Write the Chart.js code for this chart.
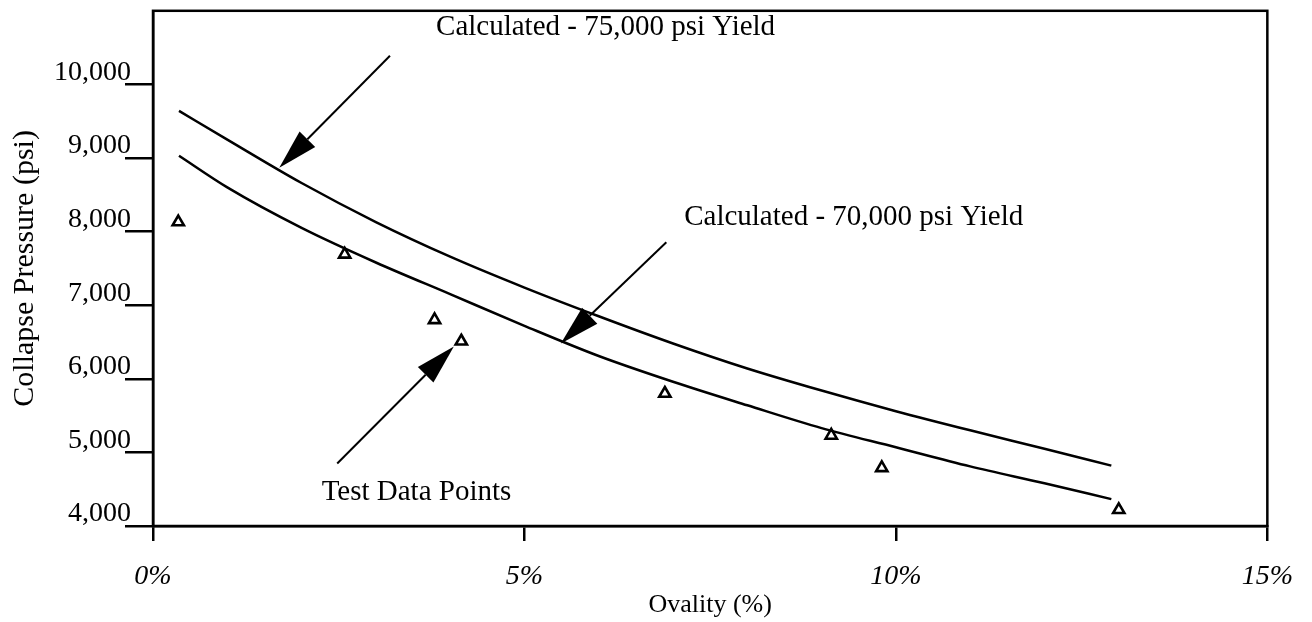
<!DOCTYPE html>
<html><head><meta charset="utf-8">
<script src="https://cdn.jsdelivr.net/npm/chart.js@4.4.1/dist/chart.umd.min.js"></script>
<style>html,body{margin:0;padding:0;background:#fff}#wrap{width:1312px;height:622px}</style>
</head><body><div id="wrap"><canvas id="c" width="1312" height="622"></canvas></div>
<script>
// ---- data ----
const xTickValues = [0, 5, 10, 15];
const xTickLabels = ['0%', '5%', '10%', '15%'];
const yTickValues = [4000, 5000, 6000, 7000, 8000, 9000, 10000];
const yTickLabels = ['4,000', '5,000', '6,000', '7,000', '8,000', '9,000', '10,000'];

const curveOvality = [0.35, 1, 2, 3, 4, 5, 6, 7, 8, 9, 10, 11, 12, 12.9];
const yield75 = [9640, 9250, 8660, 8130, 7660, 7240, 6850, 6480, 6140, 5840, 5560, 5300, 5050, 4820];
const yield70 = [9030, 8600, 8050, 7580, 7150, 6720, 6310, 5960, 5640, 5330, 5070, 4810, 4580, 4365];

const testOvality = [0.34, 2.58, 3.79, 4.15, 6.89, 9.13, 9.81, 13.0];
const testPressure = [8130, 7690, 6800, 6510, 5800, 5230, 4790, 4220];

const annotationTexts = ['Calculated - 75,000 psi Yield', 'Calculated - 70,000 psi Yield', 'Test Data Points'];
const annotationTextAt = [[3.81, 10780], [7.15, 8193], [2.27, 4458]];
const arrowFrom = [[3.19, 10390], [6.91, 7856], [2.48, 4850]];
const arrowTo = [[1.70, 8867], [5.49, 6481], [4.05, 6440]];

// ---- chart ----
const FONT = '"Liberation Serif", "Times New Roman", serif';
const toXY = (xs, ys) => xs.map((v, i) => ({x: v, y: ys[i]}));

const annotPlugin = {
  id: 'annot',
  afterDatasetsDraw(chart) {
    const {ctx, scales: {x, y}, chartArea: a} = chart;
    ctx.save();
    ctx.strokeStyle = '#000';
    ctx.fillStyle = '#000';
    ctx.lineWidth = 2.5;
    ctx.strokeRect(a.left, a.top, a.right - a.left, a.bottom - a.top);
    ctx.lineWidth = 2;
    for (let i = 0; i < annotationTexts.length; i++) {
      const x1 = x.getPixelForValue(arrowFrom[i][0]), y1 = y.getPixelForValue(arrowFrom[i][1]);
      const x2 = x.getPixelForValue(arrowTo[i][0]), y2 = y.getPixelForValue(arrowTo[i][1]);
      const ang = Math.atan2(y2 - y1, x2 - x1);
      const L = 40, W = 11;
      const bx = x2 - L * Math.cos(ang), by = y2 - L * Math.sin(ang);
      ctx.beginPath(); ctx.moveTo(x1, y1); ctx.lineTo(bx, by); ctx.stroke();
      ctx.beginPath();
      ctx.moveTo(x2, y2);
      ctx.lineTo(bx + W * Math.sin(ang), by - W * Math.cos(ang));
      ctx.lineTo(bx - W * Math.sin(ang), by + W * Math.cos(ang));
      ctx.closePath(); ctx.fill();
      ctx.font = '29px ' + FONT;
      ctx.textBaseline = 'middle';
      ctx.textAlign = 'left';
      ctx.fillText(annotationTexts[i], x.getPixelForValue(annotationTextAt[i][0]), y.getPixelForValue(annotationTextAt[i][1]));
    }
    ctx.restore();
  }
};

new Chart(document.getElementById('c'), {
  type: 'scatter',
  data: {
    datasets: [
      {data: toXY(curveOvality, yield75), showLine: true, borderColor: '#000', borderWidth: 2.5, pointRadius: 0, cubicInterpolationMode: 'monotone', fill: false},
      {data: toXY(curveOvality, yield70), showLine: true, borderColor: '#000', borderWidth: 2.5, pointRadius: 0, cubicInterpolationMode: 'monotone', fill: false},
      {data: toXY(testOvality, testPressure), showLine: false, pointStyle: 'triangle', pointRadius: 6.5, borderColor: '#000', backgroundColor: '#fff', borderWidth: 2.6}
    ]
  },
  options: {
    responsive: false,
    animation: false,
    devicePixelRatio: 1,
    layout: {padding: {left: 0, right: 40, top: 8, bottom: 0}},
    plugins: {legend: {display: false}, tooltip: {enabled: false}},
    scales: {
      x: {
        type: 'linear', min: 0, max: 15,
        afterBuildTicks: s => { s.ticks = xTickValues.map(v => ({value: v})); },
        afterFit: s => { s.height = 96; },
        grid: {drawOnChartArea: false, drawTicks: true, tickLength: 15, color: '#000', lineWidth: 2.5},
        border: {display: true, color: '#000', width: 2.5},
        ticks: {callback: (v) => xTickLabels[xTickValues.indexOf(v)], font: {family: FONT, size: 28, style: 'italic'}, color: '#000', padding: 19, maxRotation: 0, autoSkip: false},
        title: {display: true, text: 'Ovality (%)', font: {family: FONT, size: 26}, color: '#000', padding: {top: 0, bottom: 1}}
      },
      y: {
        type: 'linear', min: 4000, max: 11000,
        afterBuildTicks: s => { s.ticks = yTickValues.map(v => ({value: v})); },
        afterFit: s => { s.width = 153; },
        grid: {drawOnChartArea: false, drawTicks: true, tickLength: 28, color: '#000', lineWidth: 2.5},
        border: {display: true, color: '#000', width: 2.5},
        ticks: {callback: (v) => yTickLabels[yTickValues.indexOf(v)], font: {family: FONT, size: 28}, color: '#000', padding: -6, labelOffset: -12, autoSkip: false},
        title: {display: true, text: 'Collapse Pressure (psi)', font: {family: FONT, size: 30}, color: '#000', padding: {top: 7, bottom: 0}}
      }
    }
  },
  plugins: [annotPlugin]
});
</script>
</body></html>
